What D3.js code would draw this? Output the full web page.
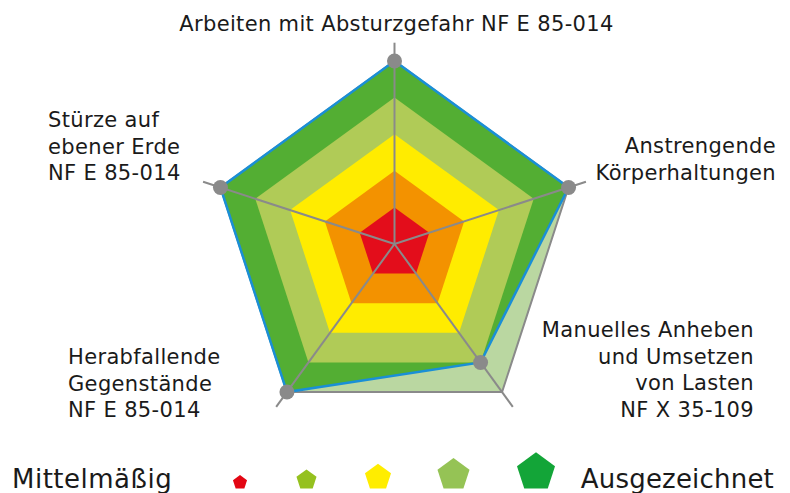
<!DOCTYPE html>
<html><head><meta charset="utf-8">
<script src="https://cdn.jsdelivr.net/npm/d3@7"></script>
<style>body{margin:0;background:#fff}svg{display:block}text{font-family:"DejaVu Sans",sans-serif;fill:#1a1a1a}</style>
</head><body>
<script>
// ---- data ----
const axisLabels = [
  ["Arbeiten mit Absturzgefahr NF E 85-014"],
  ["Anstrengende", "Körperhaltungen"],
  ["Manuelles Anheben", "und Umsetzen", "von Lasten", "NF X 35-109"],
  ["Herabfallende", "Gegenstände", "NF E 85-014"],
  ["Stürze auf", "ebener Erde", "NF E 85-014"]
];
const values = [5, 5, 4, 5, 5];
const maxValues = [5, 5, 5, 5, 5];
const levels = [5, 4, 3, 2, 1];
const legendLevels = [1, 2, 3, 4, 5];
const legendLabels = ["Mittelmäßig", "Ausgezeichnet"];

// ---- styles ----
const W = 790, H = 493, cx = 394.5, cy = 244, R = 183;
const bandColor = {1: "#e30d1b", 2: "#f39200", 3: "#ffec00", 4: "#b0cb57", 5: "#53ae33"};
const legendColor = {1: "#e30613", 2: "#95c11f", 3: "#ffed00", 4: "#95c355", 5: "#13a538"};

const svg = d3.select("body").append("svg").attr("width", W).attr("height", H);
const r = d3.scaleLinear().domain([0, 5]).range([0, R]);
const ang = d3.scaleLinear().domain([0, axisLabels.length]).range([0, 2 * Math.PI]);
const pt = (i, v) => [cx + r(v) * Math.sin(ang(i)), cy - r(v) * Math.cos(ang(i))];
const poly = vals => vals.map((v, i) => pt(i, v));
const line = d3.line().curve(d3.curveLinearClosed);

// outer reference pentagon
svg.append("path").attr("d", line(poly(maxValues)))
  .attr("fill", "#bad7a1").attr("stroke", "#8a8a8a").attr("stroke-width", 2).attr("stroke-linejoin", "miter");

// clip bands by data polygon
svg.append("clipPath").attr("id", "dataClip").append("path").attr("d", line(poly(values)));
const bands = svg.append("g").attr("clip-path", "url(#dataClip)");
bands.selectAll("path").data(levels).join("path")
  .attr("d", l => line(poly(maxValues.map(() => l))))
  .attr("fill", l => bandColor[l]);

// axis lines
svg.append("g").selectAll("line").data(axisLabels).join("line")
  .attr("x1", cx).attr("y1", cy)
  .attr("x2", (d, i) => pt(i, 5.5)[0]).attr("y2", (d, i) => pt(i, 5.5)[1])
  .attr("stroke", "#8a8a8a").attr("stroke-width", 2);

// data polygon
svg.append("path").attr("d", line(poly(values)))
  .attr("fill", "none").attr("stroke", "#1a8fd6").attr("stroke-width", 2.5).attr("stroke-linejoin", "miter");

// dots
svg.append("g").selectAll("circle").data(values).join("circle")
  .attr("cx", (v, i) => pt(i, v)[0]).attr("cy", (v, i) => pt(i, v)[1])
  .attr("r", 7.5).attr("fill", "#8a8a8a");

// labels
const labelPos = [
  {x: cx + 2, y: 31, anchor: "middle"},
  {x: 776, y: 153, anchor: "end"},
  {x: 754, y: 337, anchor: "end"},
  {x: 68, y: 364, anchor: "start"},
  {x: 48, y: 127, anchor: "start"}
];
const lh = 26.7;
axisLabels.forEach((lines, i) => {
  const t = svg.append("text").attr("font-size", 21).attr("letter-spacing", 0.35).attr("text-anchor", labelPos[i].anchor);
  lines.forEach((s, j) => t.append("tspan").attr("x", labelPos[i].x).attr("y", labelPos[i].y + j * lh).text(s));
});

// legend
const legR = d3.scaleLinear().domain([1, 5]).range([7.4, 20]);
const legX = {1: 240, 2: 306.5, 3: 378, 4: 453.5, 5: 536};
const legBase = 488.5;
svg.append("g").selectAll("path").data(legendLevels).join("path")
  .attr("d", l => {
    const rr = legR(l), cyy = legBase - rr * Math.cos(Math.PI / 5), cxx = legX[l];
    return line(d3.range(5).map(k => [cxx + rr * Math.sin(k * 2 * Math.PI / 5), cyy - rr * Math.cos(k * 2 * Math.PI / 5)]));
  })
  .attr("fill", l => legendColor[l]);
svg.append("text").attr("x", 12).attr("y", 488).attr("font-size", 26).attr("letter-spacing", 0.5).text(legendLabels[0]);
svg.append("text").attr("x", 774).attr("y", 488).attr("font-size", 26).attr("letter-spacing", 0.2).attr("text-anchor", "end").text(legendLabels[1]);
</script>
</body></html>
